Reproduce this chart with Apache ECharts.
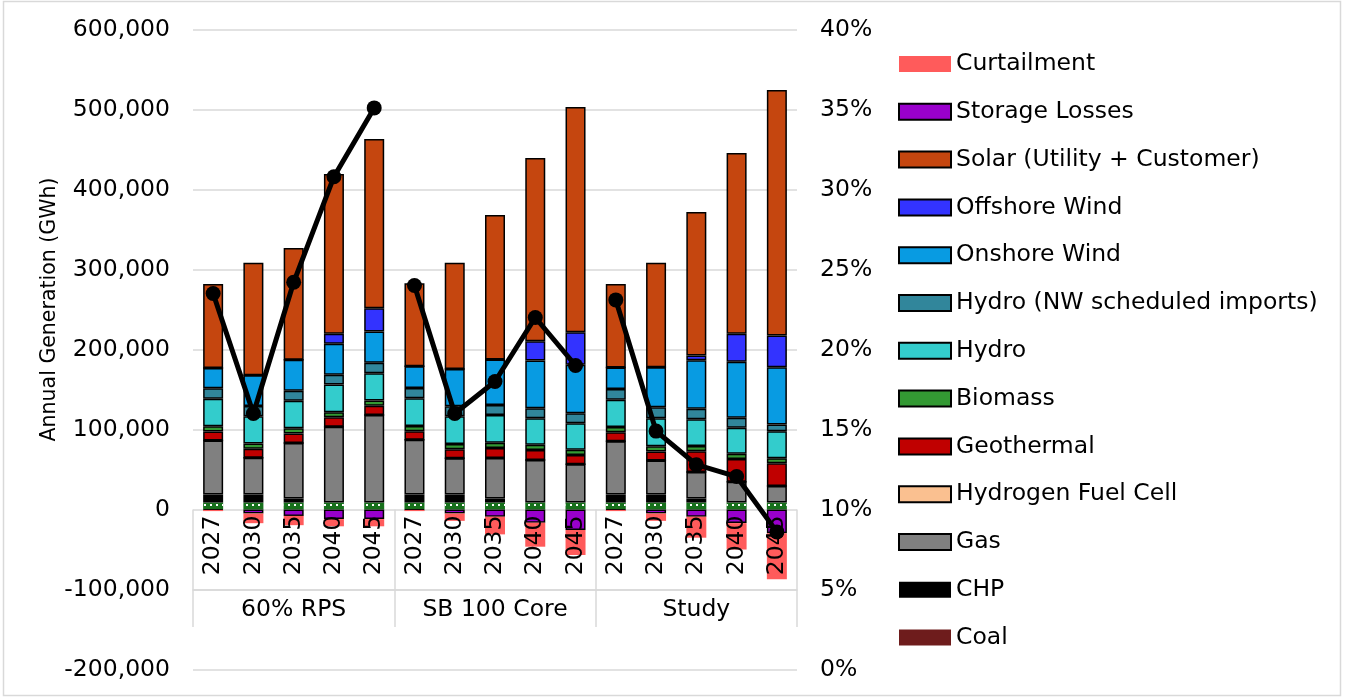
<!DOCTYPE html>
<html>
<head>
<meta charset="utf-8">
<script src="https://cdn.jsdelivr.net/npm/echarts@6/dist/echarts.min.js"></script>
<style>
  html, body { margin: 0; padding: 0; background: #fff; }
  #chart { width: 1345px; height: 698px; }
</style>
</head>
<body>
<div id="chart"></div>
<script>
// Scenario groups and study years along the category axis
const groups = ['60% RPS', 'SB 100 Core', 'Study'];
const years = ['2027', '2030', '2035', '2040', '2045'];

// Annual generation by resource (GWh), 5 years per scenario
const baseOther   = [8700, 8700, 8700, 8700, 8700,  8700, 8700, 8700, 8700, 8700,  8700, 8700, 8700, 8700, 8700];
const coal        = [0, 0, 0, 0, 0,  0, 0, 0, 0, 0,  0, 0, 0, 0, 0];
const chp         = [10000, 10000, 5000, 0, 0,  10000, 10000, 5000, 0, 0,  10000, 10000, 5000, 0, 0];
const gas         = [67500, 45900, 69500, 94750, 109400,  68400, 45400, 50750, 53100, 47750,  66600, 42500, 33250, 26000, 20600];
const hydrogenFC  = [0, 0, 0, 0, 0,  0, 0, 0, 0, 0,  0, 0, 0, 0, 0];
const geothermal  = [11250, 11250, 11750, 11750, 11600,  10750, 11250, 12500, 12500, 11600,  11250, 11250, 25900, 28400, 28400];
const biomass     = [6500, 6500, 6500, 6500, 6500,  6500, 6500, 6500, 6500, 6500,  6500, 6500, 6500, 6500, 6500];
const hydro       = [34600, 34100, 34600, 34600, 34100,  34600, 34600, 34600, 33250, 33250,  34250, 35000, 33400, 32500, 33750];
const hydroNW     = [12900, 12900, 12500, 12100, 13000,  13000, 12500, 12500, 12500, 12500,  13250, 13750, 13250, 12500, 8400];
const onshoreWind = [25400, 38400, 38750, 38750, 39100,  27100, 46600, 57100, 59600, 60500,  27100, 50000, 60500, 70000, 71600];
const offshoreWind= [0, 0, 0, 12500, 29100,  0, 0, 0, 24100, 40750,  0, 0, 6000, 35000, 39600];
const solar       = [105000, 140750, 139600, 199750, 211600,  103700, 132950, 180350, 229150, 281550,  104250, 130800, 179400, 226000, 306850];
const storageLoss = [-500, -5000, -8000, -12000, -12000,  -500, -5000, -9000, -16500, -25600,  -500, -5000, -9000, -17000, -29750];
const curtailment = [-1500, -12100, -11600, -9000, -9000,  -1500, -9200, -22100, -30000, -31250,  -1500, -9200, -26250, -33000, -57500];

// Right-axis percentage line (one segment per scenario)
const sharePct    = [23.5, 16.0, 24.2, 30.8, 35.1,  24.0, 16.0, 18.0, 22.0, 19.0,  23.1, 14.9, 12.8, 12.06, 8.6];

// Axis tick ranges
const leftTicks = { min: -200000, max: 600000, step: 100000 };
const rightTicks = { min: 0, max: 40, step: 5 };

const categories = groups.flatMap(() => years);
const FONT = 'DejaVu Sans';
const FS = 23.5;

// Stack order, bottom to top (negatives stack downward from zero)
const stackDefs = [
  { name: 'Other',                         data: baseOther,    color: '#17701c', border: false, decal: true, legend: false },
  { name: 'Coal',                          data: coal,         color: '#6e1c1c', border: false },
  { name: 'CHP',                           data: chp,          color: '#000000', border: false },
  { name: 'Gas',                           data: gas,          color: '#808080', border: true },
  { name: 'Hydrogen Fuel Cell',            data: hydrogenFC,   color: '#fac090', border: true },
  { name: 'Geothermal',                    data: geothermal,   color: '#c00000', border: true },
  { name: 'Biomass',                       data: biomass,      color: '#339933', border: true },
  { name: 'Hydro',                         data: hydro,        color: '#33cccc', border: true },
  { name: 'Hydro (NW scheduled imports)',  data: hydroNW,      color: '#31869b', border: true },
  { name: 'Onshore Wind',                  data: onshoreWind,  color: '#089be2', border: true },
  { name: 'Offshore Wind',                 data: offshoreWind, color: '#3333ff', border: true },
  { name: 'Solar (Utility + Customer)',    data: solar,        color: '#c5460f', border: true },
  { name: 'Storage Losses',                data: storageLoss,  color: '#9900cc', border: true },
  { name: 'Curtailment',                   data: curtailment,  color: '#ff5b5b', border: false }
];

const legendOrder = stackDefs.filter(d => d.legend !== false).map(d => d.name).reverse();

const barSeries = stackDefs.map(d => ({
  name: d.name,
  type: 'bar',
  stack: 'gen',
  xAxisIndex: 0,
  yAxisIndex: 0,
  barWidth: 20,
  data: d.data,
  itemStyle: Object.assign({
    color: d.color,
    borderColor: d.border ? '#000' : d.color,
    borderWidth: d.border ? 1.5 : 0
  }, d.decal ? {
    decal: { symbol: 'rect', symbolSize: 1, color: '#ffffff', dashArrayX: [2, 4], dashArrayY: [2, 5] }
  } : {}),
  emphasis: { disabled: true },
  z: 2
}));

// One line per scenario so the segments do not join across groups
const lineSeries = groups.map((g, gi) => ({
  name: 'share-' + gi,
  type: 'line',
  xAxisIndex: 0,
  yAxisIndex: 1,
  data: sharePct.map((v, i) => Math.floor(i / years.length) === gi ? v : '-'),
  symbol: 'circle',
  symbolSize: 15,
  lineStyle: { color: '#000', width: 5 },
  itemStyle: { color: '#000' },
  emphasis: { disabled: true },
  z: 10
}));

const gridLine = { color: '#d9d9d9', width: 1.5 };
const txt = { fontFamily: FONT, fontSize: FS, color: '#000' };

const option = {
  animation: false,
  backgroundColor: '#fff',
  textStyle: { fontFamily: FONT },
  graphic: [{
    type: 'rect', silent: true, z: -10,
    shape: { x: 3.5, y: 1.5, width: 1337, height: 694 },
    style: { fill: 'none', stroke: '#d9d9d9', lineWidth: 1.5 }
  }],
  legend: {
    orient: 'vertical',
    left: 893,
    top: 47,
    itemWidth: 52,
    itemHeight: 16,
    itemGap: 23.8,
    icon: 'rect',
    selectedMode: false,
    data: legendOrder,
    textStyle: Object.assign({ lineHeight: 22 }, txt)
  },
  grid: [
    // main plot
    { left: 193, right: 548, top: 29.5, bottom: 28.5, outerBoundsMode: 'none', containLabel: false },
    // year band below the zero line
    { left: 193, right: 548, top: 509.5, height: 80.5, outerBoundsMode: 'none', containLabel: false },
    // scenario band
    { left: 193, right: 548, top: 590, height: 37, outerBoundsMode: 'none', containLabel: false }
  ],
  xAxis: [
    {
      type: 'category',
      gridIndex: 0,
      data: categories,
      axisLine: { show: false },
      axisTick: { show: false },
      axisLabel: { show: false },
      splitLine: { show: false }
    },
    {
      type: 'category',
      gridIndex: 1,
      position: 'top',
      data: categories,
      z: 3,
      axisLine: { show: false, onZero: false },
      axisTick: { show: false },
      axisLabel: Object.assign({ interval: 0, inside: true, rotate: -90, margin: 6 }, txt),
      splitLine: { show: true, interval: (i) => i % years.length === 0, lineStyle: gridLine }
    },
    {
      type: 'category',
      gridIndex: 2,
      position: 'top',
      data: groups,
      axisLine: { show: true, onZero: false, lineStyle: gridLine },
      axisTick: { show: false },
      axisLabel: Object.assign({ inside: true, margin: 8 }, txt),
      splitLine: { show: true, interval: 0, lineStyle: gridLine }
    }
  ],
  yAxis: [
    {
      type: 'value',
      gridIndex: 0,
      min: leftTicks.min,
      max: leftTicks.max,
      interval: leftTicks.step,
      axisLine: { show: false },
      axisTick: { show: false },
      splitLine: { lineStyle: gridLine },
      axisLabel: Object.assign({ margin: 23, formatter: v => v.toLocaleString('en-US') }, txt),
      name: 'Annual Generation (GWh)',
      nameLocation: 'middle',
      nameGap: 133,
      nameTextStyle: { fontFamily: FONT, fontSize: 20.5, color: '#000', padding: [0, 0, 0, 80] }
    },
    {
      type: 'value',
      gridIndex: 0,
      position: 'right',
      min: rightTicks.min,
      max: rightTicks.max,
      interval: rightTicks.step,
      axisLine: { show: false },
      axisTick: { show: false },
      splitLine: { show: false },
      axisLabel: Object.assign({ margin: 23, formatter: '{value}%' }, txt)
    },
    { type: 'value', gridIndex: 1, show: false },
    { type: 'value', gridIndex: 2, show: false }
  ],
  series: barSeries.concat(lineSeries)
};

const chart = echarts.init(document.getElementById('chart'), null, { renderer: 'canvas' });
chart.setOption(option);
</script>
</body>
</html>
